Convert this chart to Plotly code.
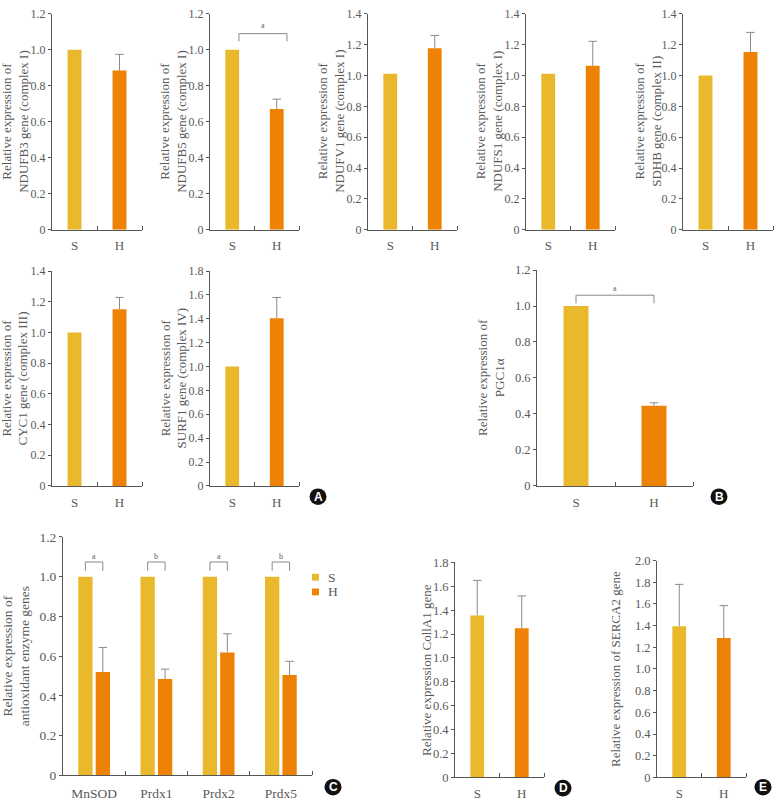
import plotly.graph_objects as go

W, H = 775, 807

# ---------------- data ----------------
groups = ["S", "H"]

ndufb3 = [1.0, 0.885]
ndufb3_err = [0.0, 0.09]
ndufb5 = [1.0, 0.671]
ndufb5_err = [0.0, 0.055]
ndufv1 = [1.012, 1.177]
ndufv1_err = [0.0, 0.083]
ndufs1 = [1.012, 1.063]
ndufs1_err = [0.0, 0.159]
sdhb = [1.0, 1.152]
sdhb_err = [0.0, 0.128]
cyc1 = [1.0, 1.151]
cyc1_err = [0.0, 0.077]
surf1 = [1.0, 1.405]
surf1_err = [0.0, 0.173]
pgc1a = [1.0, 0.446]
pgc1a_err = [0.0, 0.016]

enzymes = ["MnSOD", "Prdx1", "Prdx2", "Prdx5"]
enz_s = [1.0, 1.0, 1.0, 1.0]
enz_h = [0.52, 0.485, 0.619, 0.505]
enz_h_err = [0.124, 0.05, 0.094, 0.069]
enz_sig = ["a", "b", "a", "b"]

col1a1 = [1.356, 1.249]
col1a1_err = [0.294, 0.271]
serca2 = [1.394, 1.285]
serca2_err = [0.386, 0.299]

# ---------------- style ----------------
C_S = "#E9B82D"
C_H = "#EE8204"
AX = "#555555"
ERR = "#8a8a8a"
TXT = "#5a5a5a"
SERIF = "Liberation Serif, Times New Roman, serif"

def fx(p):
    return p / W

def fy(p):
    return 1 - p / H

fig = go.Figure()
annotations = []
shapes = []

def tick_labels(top):
    n = int(round(top / 0.2))
    vals = [round(i * 0.2, 1) for i in range(n + 1)]
    txt = ["0"] + [f"{v:.1f}" for v in vals[1:]]
    return vals, txt

def setup_axes(k, xpix, ypix, top, cats, tfs=12, xfs=13, xstand=4):
    xa = "xaxis" if k == 1 else f"xaxis{k}"
    ya = "yaxis" if k == 1 else f"yaxis{k}"
    xr = "x" if k == 1 else f"x{k}"
    yr = "y" if k == 1 else f"y{k}"
    n = len(cats)
    tv, tt = tick_labels(top)
    fig.update_layout(**{
        xa: dict(domain=[fx(xpix[0]), fx(xpix[1])], anchor=yr,
                 range=[-0.5, n - 0.5], tickmode="array",
                 tickvals=list(range(n)), ticktext=cats, ticks="",
                 showline=True, linecolor=AX, linewidth=1,
                 showgrid=False, zeroline=False,
                 tickfont=dict(family=SERIF, size=xfs, color=TXT),
                 ticklabelstandoff=xstand,
                 minor=dict(tickmode="array",
                            tickvals=[i + 0.5 for i in range(n)],
                            ticks="inside", ticklen=4, tickcolor=AX,
                            tickwidth=1, showgrid=False),
                 fixedrange=True),
        ya: dict(domain=[fy(ypix[1]), fy(ypix[0])], anchor=xr,
                 range=[0, top], tickmode="array", tickvals=tv,
                 ticktext=tt, ticks="outside", ticklen=3, tickcolor=AX,
                 tickwidth=1, showline=True, linecolor=AX, linewidth=1,
                 showgrid=False, zeroline=False,
                 tickfont=dict(family=SERIF, size=tfs, color=TXT),
                 fixedrange=True),
    })
    return xr, yr

def add_err(xr, yr, xs, vals, errs, cap=6):
    ex, ey, cx, cy = [], [], [], []
    for x, v, e in zip(xs, vals, errs):
        if e > 0:
            ex += [x, x, None]
            ey += [v, v + e, None]
            cx.append(x)
            cy.append(v + e)
    fig.add_trace(go.Scatter(x=ex, y=ey, mode="lines", xaxis=xr, yaxis=yr,
                             line=dict(color=ERR, width=1), showlegend=False,
                             hoverinfo="skip", cliponaxis=False))
    fig.add_trace(go.Scatter(x=cx, y=cy, mode="markers", xaxis=xr, yaxis=yr,
                             marker=dict(symbol="line-ew", size=cap,
                                         line=dict(width=1, color=ERR)),
                             showlegend=False, hoverinfo="skip",
                             cliponaxis=False))

def add_title(text, xpix, ypix_center, size=13):
    annotations.append(dict(text=text, x=fx(xpix), y=fy(ypix_center),
                            xref="paper", yref="paper", showarrow=False,
                            textangle=-90, xanchor="center", yanchor="middle",
                            font=dict(family=SERIF, size=size, color=TXT)))

def simple_panel(k, xpix, ypix, top, vals, errs, title, title_off=37,
                 width=0.31, tfs=12, xfs=13):
    xr, yr = setup_axes(k, xpix, ypix, top, groups, tfs=tfs, xfs=xfs)
    xs = list(range(len(groups)))
    fig.add_trace(go.Bar(x=xs, y=vals, xaxis=xr, yaxis=yr, width=width,
                         marker=dict(color=[C_S, C_H], line=dict(width=0)),
                         showlegend=False, hoverinfo="skip"))
    add_err(xr, yr, xs, vals, errs)
    add_title(title, xpix[0] - title_off, (ypix[0] + ypix[1]) / 2)
    return xr, yr

def bracket(xr, yr, x0, x1, ytop, ybot, label, lab_y, fs=8):
    fig.add_trace(go.Scatter(x=[x0, x0, x1, x1], y=[ybot, ytop, ytop, ybot],
                             mode="lines", xaxis=xr, yaxis=yr,
                             line=dict(color=ERR, width=1), showlegend=False,
                             hoverinfo="skip", cliponaxis=False))
    annotations.append(dict(text=label, x=(x0 + x1) / 2, y=lab_y, xref=xr,
                            yref=yr, showarrow=False, xanchor="center",
                            yanchor="middle",
                            font=dict(family=SERIF, size=fs, color=TXT)))

# ---------------- panel A ----------------
simple_panel(1, (52, 142), (7, 227), 1.2, ndufb3, ndufb3_err,
             "Relative expression of<br>NDUFB3 gene (complex I)")
xr, yr = simple_panel(2, (210, 299), (7, 227), 1.2, ndufb5, ndufb5_err,
                      "Relative expression of<br>NDUFB5 gene (complex I)")
bracket(xr, yr, 0.15, 1.23, 1.09, 1.047, "a", 1.135)
simple_panel(3, (368, 457), (7, 227), 1.4, ndufv1, ndufv1_err,
             "Relative expression of<br>NDUFV1 gene (complex I)")
simple_panel(4, (526, 615), (7, 227), 1.4, ndufs1, ndufs1_err,
             "Relative expression of<br>NDUFS1 gene (complex I)")
simple_panel(5, (683, 773), (7, 227), 1.4, sdhb, sdhb_err,
             "Relative expression of<br>SDHB gene (complex II)", title_off=35)
simple_panel(6, (52, 142), (269, 488), 1.4, cyc1, cyc1_err,
             "Relative expression of<br>CYC1 gene (complex III)")
simple_panel(7, (210, 299), (269, 488), 1.8, surf1, surf1_err,
             "Relative expression of<br>SURF1 gene (complex IV)", title_off=36)

# ---------------- panel B ----------------
xr, yr = simple_panel(8, (537, 693), (268, 488), 1.2, pgc1a, pgc1a_err,
                      "Relative expression of<br>PGC1α", title_off=46,
                      width=0.32, tfs=12.5)
bracket(xr, yr, 0.0, 1.0, 1.06, 1.015, "a", 1.1)

# ---------------- panel C ----------------
xr, yr = setup_axes(9, (63, 312), (540, 783), 1.2, enzymes, tfs=13.5, xfs=13.5,
                    xstand=5)
ex = list(range(len(enzymes)))
S_OFF, H_OFF, BW = -0.255, 0.025, 0.23
fig.add_trace(go.Bar(x=ex, y=enz_s, xaxis=xr, yaxis=yr, offset=S_OFF, width=BW,
                     marker=dict(color=C_S, line=dict(width=0)),
                     showlegend=False, hoverinfo="skip"))
fig.add_trace(go.Bar(x=ex, y=enz_h, xaxis=xr, yaxis=yr, offset=H_OFF, width=BW,
                     marker=dict(color=C_H, line=dict(width=0)),
                     showlegend=False, hoverinfo="skip"))
add_err(xr, yr, [x + H_OFF + BW / 2 for x in ex], enz_h, enz_h_err)
for x, lab in zip(ex, enz_sig):
    bracket(xr, yr, x + S_OFF + BW / 2, x + H_OFF + BW / 2, 1.074, 1.03, lab,
            1.1)
add_title("Relative expression of<br>antioxidant enzyme genes", 63 - 47,
          (540 + 783) / 2, size=13.5)

# legend of C
for lab, col, yc in (("S", C_S, 581), ("H", C_H, 596)):
    shapes.append(dict(type="rect", xref="paper", yref="paper",
                       x0=fx(312), x1=fx(319), y0=fy(yc + 3.5), y1=fy(yc - 3.5),
                       fillcolor=col, line=dict(width=0)))
    annotations.append(dict(text=lab, x=fx(326), y=fy(yc), xref="paper",
                            yref="paper", showarrow=False, xanchor="left",
                            yanchor="middle",
                            font=dict(family=SERIF, size=13.5, color=TXT)))

# ---------------- panel D / E ----------------
xr, yr = setup_axes(10, (455, 544), (566, 785), 1.8, groups, tfs=12.5, xfs=13)
fig.add_trace(go.Bar(x=[0, 1], y=col1a1, xaxis=xr, yaxis=yr, width=0.31,
                     marker=dict(color=[C_S, C_H], line=dict(width=0)),
                     showlegend=False, hoverinfo="skip"))
add_err(xr, yr, [0, 1], col1a1, col1a1_err)
add_title("Relative expression CollA1 gene", 427, (566 + 785) / 2)

xr, yr = setup_axes(11, (657, 746), (564, 785), 2.0, groups, tfs=12.5, xfs=13)
fig.add_trace(go.Bar(x=[0, 1], y=serca2, xaxis=xr, yaxis=yr, width=0.31,
                     marker=dict(color=[C_S, C_H], line=dict(width=0)),
                     showlegend=False, hoverinfo="skip"))
add_err(xr, yr, [0, 1], serca2, serca2_err)
add_title("Relative expression of SERCA2 gene", 616, (564 + 785) / 2)

# ---------------- panel letters ----------------
for lab, cx, cy in (("A", 318, 499), ("B", 719, 499), ("C", 333, 795),
                    ("D", 563, 796), ("E", 763, 795)):
    r = 8.5
    shapes.append(dict(type="circle", xref="paper", yref="paper",
                       x0=fx(cx - r), x1=fx(cx + r), y0=fy(cy + r),
                       y1=fy(cy - r), fillcolor="#111111", line=dict(width=0)))
    annotations.append(dict(text=f"<b>{lab}</b>", x=fx(cx), y=fy(cy),
                            xref="paper", yref="paper", showarrow=False,
                            xanchor="center", yanchor="middle",
                            font=dict(family="Liberation Sans, Arial", size=12,
                                      color="white")))

fig.update_layout(width=W, height=H, margin=dict(l=0, r=0, t=0, b=0),
                  paper_bgcolor="white", plot_bgcolor="white",
                  barmode="overlay", showlegend=False,
                  annotations=annotations, shapes=shapes)

fig.write_html("out.html",
               config={"displayModeBar": False},
               post_script="document.body.style.margin='0';"
                           "document.body.style.overflow='hidden';")
